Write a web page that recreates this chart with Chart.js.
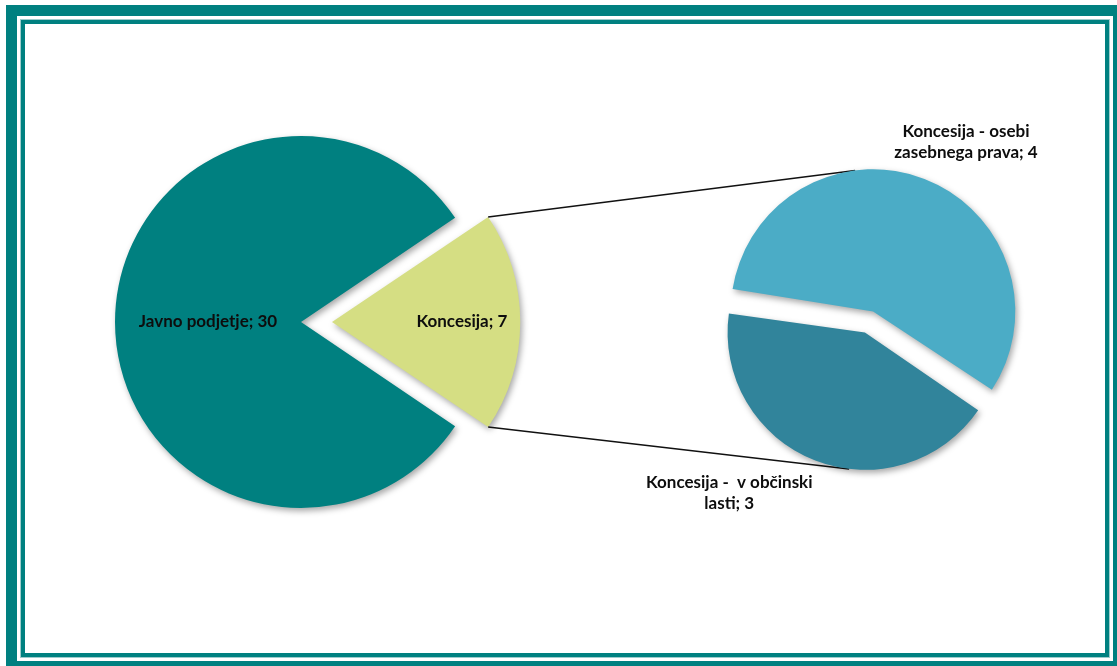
<!DOCTYPE html>
<html lang="sl">
<head>
<meta charset="utf-8">
<script src="https://cdn.jsdelivr.net/npm/chart.js@4.4.1/dist/chart.umd.min.js"></script>
<style>
  html, body { margin: 0; padding: 0; background: #fff; overflow: hidden; }
  #okvir { position: relative; width: 1117px; height: 666px; overflow: hidden; }
  .zunanji { position: absolute; left: 6px; top: 5px; width: 1118px; height: 667px; border: 11px solid #008080; box-sizing: border-box; }
  .notranji { position: absolute; left: 21px; top: 20px; width: 1088px; height: 637px; border: 4px solid #008080; box-sizing: border-box; box-shadow: 0 0 0 1px #9ccccc; }
  canvas { position: absolute; left: 0; top: 0; }
</style>
</head>
<body>
<div id="okvir">
  <div class="zunanji"></div>
  <div class="notranji"></div>
  <canvas id="levi" width="1117" height="666"></canvas>
  <canvas id="desni" width="1117" height="666"></canvas>
</div>
<script>
// podatki
const kategorije = ['Javno podjetje', 'Koncesija']
const vrednosti = [30, 7]
const podKategorije = ['Koncesija - osebi zasebnega prava', 'Koncesija -  v občinski lasti']
const podVrednosti = [4, 3]

const vsota = vrednosti.reduce((a, b) => a + b, 0)

Chart.defaults.font.family = 'Lato'

// dejanska geometrija izrisanega loka (upošteva offset, kot ga riše Chart.js)
function geom(el) {
  const off = (el.options.offset || 0) / 4
  const circ = el.endAngle - el.startAngle
  const half = (el.startAngle + el.endAngle) / 2
  const fix = 1 - Math.sin(Math.min(Math.PI, circ))
  const r = el.outerRadius + off * fix
  const beta = Math.max(0.001, circ * r - off * fix / Math.PI) / r
  const kot = (circ - beta) / 2
  return {
    x: el.x + Math.cos(half) * off,
    y: el.y + Math.sin(half) * off,
    r: r,
    a0: el.startAngle + kot,
    a1: el.endAngle - kot
  }
}

function tangenta(px, py, g, zgoraj) {
  const dx = px - g.x, dy = py - g.y
  const d = Math.sqrt(dx * dx + dy * dy)
  const th = Math.atan2(dy, dx)
  const fi = Math.acos(g.r / d)
  const a = zgoraj ? th + fi : th - fi
  return [g.x + Math.cos(a) * g.r, g.y + Math.sin(a) * g.r]
}

function zavij(ctx, besedilo, sirina) {
  const besede = besedilo.split(' ')
  const vrstice = []
  let vrstica = ''
  besede.forEach((b, i) => {
    const poskus = i == 0 ? b : vrstica + ' ' + b
    if (i > 0 && b !== '' && ctx.measureText(poskus).width > sirina) {
      vrstice.push(vrstica)
      vrstica = b
    } else {
      vrstica = poskus
    }
  })
  vrstice.push(vrstica)
  return vrstice
}

const dodatki = {
  id: 'dodatki',
  beforeDatasetsDraw(chart, args, opts) {
    const ctx = chart.ctx
    if (opts.povezava) {
      const leva = opts.povezava().getDatasetMeta(0).data[1]
      const gL = geom(leva)
      const arcs = chart.getDatasetMeta(0).data
      const g0 = geom(arcs[0])
      const g1 = geom(arcs[1])
      const p1 = [gL.x + Math.cos(gL.a0) * gL.r, gL.y + Math.sin(gL.a0) * gL.r]
      const p2 = [gL.x + Math.cos(gL.a1) * gL.r, gL.y + Math.sin(gL.a1) * gL.r]
      const t1 = tangenta(p1[0], p1[1], g0, true)
      const t2 = tangenta(p2[0], p2[1], g1, false)
      ctx.save()
      ctx.strokeStyle = '#111'
      ctx.lineWidth = 1.5
      ctx.beginPath()
      ctx.moveTo(p1[0], p1[1]); ctx.lineTo(t1[0], t1[1])
      ctx.moveTo(p2[0], p2[1]); ctx.lineTo(t2[0], t2[1])
      ctx.stroke()
      ctx.restore()
    }
    ctx.save()
    ctx.shadowColor = 'rgba(0,0,0,0.35)'
    ctx.shadowBlur = 6
    ctx.shadowOffsetX = 2
    ctx.shadowOffsetY = 3
  },
  afterDatasetsDraw(chart, args, opts) {
    const ctx = chart.ctx
    ctx.restore()
    const ds = chart.data.datasets[0]
    ctx.save()
    ctx.font = 'bold 17px Lato'
    ctx.fillStyle = '#0d0d0d'
    ctx.textAlign = 'center'
    ctx.textBaseline = 'middle'
    chart.getDatasetMeta(0).data.forEach((el, i) => {
      const g = geom(el)
      const m = opts.mesta[i]
      const a = (g.a0 + g.a1) / 2 + m.da * Math.PI / 180
      const x = g.x + Math.cos(a) * g.r * m.f
      const y = g.y + Math.sin(a) * g.r * m.f
      const vrstice = zavij(ctx, chart.data.labels[i] + '; ' + ds.data[i], opts.sirina)
      const v = 21
      vrstice.forEach((t, j) => {
        ctx.fillText(t, x, y + (j - (vrstice.length - 1) / 2) * v)
      })
    })
    ctx.restore()
  }
}

const levi = new Chart(document.getElementById('levi'), {
  type: 'pie',
  data: {
    labels: kategorije,
    datasets: [{
      data: vrednosti,
      backgroundColor: ['#008080', '#D5DE83'],
      borderWidth: 0,
      offset: [0, 124]
    }]
  },
  options: {
    responsive: false,
    animation: false,
    rotation: 90 + 180 * vrednosti[1] / vsota,
    radius: 186,
    layout: { padding: { left: 0, right: 515, top: 0, bottom: 22 } },
    plugins: {
      legend: { display: false },
      tooltip: { enabled: false },
      dodatki: { mesta: [{ da: 0, f: 0.5 }, { da: 0, f: 0.69 }], sirina: 300 }
    }
  },
  plugins: [dodatki]
})

new Chart(document.getElementById('desni'), {
  type: 'pie',
  data: {
    labels: podKategorije,
    datasets: [{
      data: podVrednosti,
      backgroundColor: ['#4BACC6', '#31849B'],
      borderWidth: 0,
      offset: [45, 45]
    }]
  },
  options: {
    responsive: false,
    animation: false,
    rotation: 90 + 180 * vrednosti[1] / vsota + 360 * podVrednosti[1] / (podVrednosti[0] + podVrednosti[1]),
    radius: 131,
    layout: { padding: { left: 621, right: 0, top: 0, bottom: 22 } },
    plugins: {
      legend: { display: false },
      tooltip: { enabled: false },
      dodatki: {
        mesta: [{ da: 7.5, f: 1.36 }, { da: 19, f: 1.53 }],
        sirina: 180,
        povezava: () => levi
      }
    }
  },
  plugins: [dodatki]
})
</script>
</body>
</html>
